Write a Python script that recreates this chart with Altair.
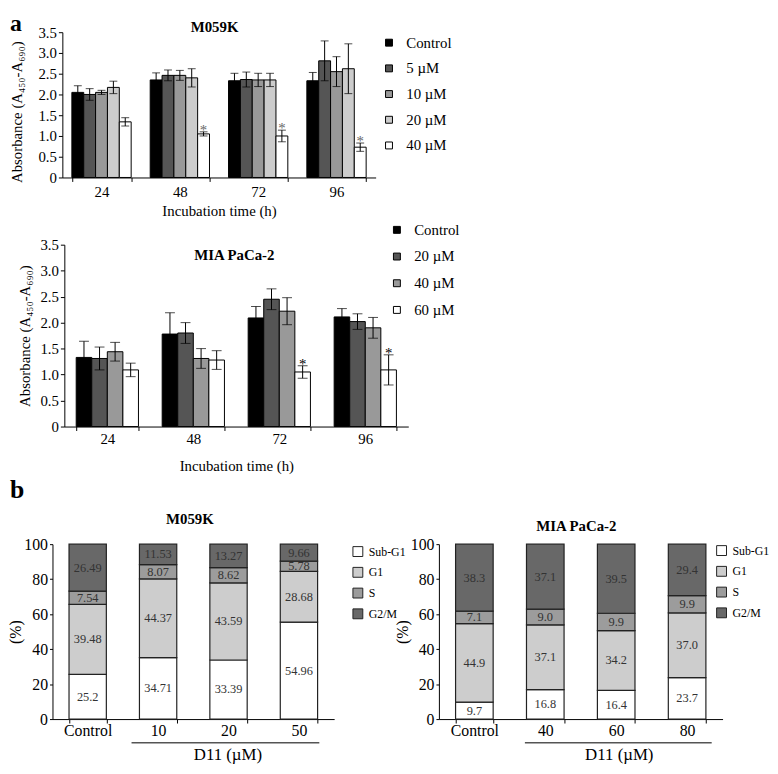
import altair as alt
import pandas as pd

FONT = "Liberation Serif"

# ---------------- panel a: M059K ----------------
times = ["24", "48", "72", "96"]

m_conc = ["Control", "5 µM", "10 µM", "20 µM", "40 µM"]
m_vals = [
    [2.05, 2.35, 2.33, 2.33],
    [2.00, 2.46, 2.36, 2.81],
    [2.05, 2.46, 2.35, 2.55],
    [2.17, 2.40, 2.35, 2.62],
    [1.34, 1.05, 1.00, 0.73],
]
m_errs = [
    [0.16, 0.17, 0.18, 0.20],
    [0.14, 0.13, 0.18, 0.48],
    [0.05, 0.12, 0.16, 0.36],
    [0.15, 0.22, 0.16, 0.60],
    [0.10, 0.05, 0.14, 0.10],
]
m_sig = [
    ["", "", "", ""],
    ["", "", "", ""],
    ["", "", "", ""],
    ["", "", "", ""],
    ["", "*", "*", "*"],
]
m_colors = ["#000000", "#555555", "#999999", "#cccccc", "#ffffff"]

# ---------------- panel a: MIA PaCa-2 ----------------
p_conc = ["Control", "20 µM", "40 µM", "60 µM"]
p_vals = [
    [1.33, 1.78, 2.09, 2.11],
    [1.31, 1.80, 2.45, 2.02],
    [1.44, 1.31, 2.22, 1.90],
    [1.09, 1.28, 1.05, 1.09],
]
p_errs = [
    [0.31, 0.41, 0.22, 0.16],
    [0.22, 0.20, 0.20, 0.15],
    [0.18, 0.19, 0.26, 0.20],
    [0.13, 0.18, 0.12, 0.29],
]
p_sig = [
    ["", "", "", ""],
    ["", "", "", ""],
    ["", "", "", ""],
    ["", "", "*", "*"],
]
p_colors = ["#000000", "#555555", "#999999", "#ffffff"]

# ---------------- panel b ----------------
phases = ["Sub-G1", "G1", "S", "G2/M"]
phase_colors = ["#ffffff", "#cdcdcd", "#9c9c9c", "#686868"]

bm_cond = ["Control", "10", "20", "50"]
bm_sub = [25.2, 34.71, 33.39, 54.96]
bm_g1 = [39.48, 44.37, 43.59, 28.68]
bm_s = [7.54, 8.07, 8.62, 5.78]
bm_g2 = [26.49, 11.53, 13.27, 9.66]

bp_cond = ["Control", "40", "60", "80"]
bp_sub = [9.7, 16.8, 16.4, 23.7]
bp_g1 = [44.9, 37.1, 34.2, 37.0]
bp_s = [7.1, 9.0, 9.9, 9.9]
bp_g2 = [38.3, 37.1, 39.5, 29.4]


def long_bars(conc, vals, errs, sig):
    rows = []
    for ci, c in enumerate(conc):
        for ti, t in enumerate(times):
            rows.append({"time": t, "conc": c, "v": vals[ci][ti],
                         "e": errs[ci][ti], "sig": sig[ci][ti]})
    return pd.DataFrame(rows)


def long_stack(cond, sub, g1, s, g2):
    rows = []
    for i, c in enumerate(cond):
        for k, (ph, arr) in enumerate(zip(phases, [sub, g1, s, g2])):
            rows.append({"cond": c, "phase": ph, "k": k, "v": arr[i], "lab": str(arr[i])})
    return pd.DataFrame(rows)


def text_layer(txt, x, y, size, weight="normal", align="center", baseline="middle"):
    return alt.Chart(pd.DataFrame({"t": [txt]})).mark_text(
        fontSize=size, fontWeight=weight, color="black", align=align,
        baseline=baseline).encode(x=alt.value(x), y=alt.value(y), text="t:N")


def bar_panel(df, conc, colors, w, h, x_start, pad, cap, title_text, tx, ty,
              letter, lx, ly, legend_x, legend_y, row_pad, ytitle_pad, ytitle_shift,
              sig_color, xlab_pad, xtitle_pad):
    X = alt.X("time:N", sort=times,
              scale=alt.Scale(paddingInner=pad, paddingOuter=pad / 2, range=[x_start, w]),
              axis=alt.Axis(title="Incubation time (h)", labelAngle=0, tickBand="extent",
                            labelFontSize=15, titleFontSize=15, labelPadding=xlab_pad,
                            titlePadding=xtitle_pad, tickSize=4,
                            titleX=(x_start + w) / 2))
    XO = alt.XOffset("conc:N", sort=conc, scale=alt.Scale(paddingInner=0, paddingOuter=0))
    yaxis = alt.Axis(title="Absorbance (A₄₅₀-A₆₉₀)", values=[0, 0.5, 1, 1.5, 2, 2.5, 3, 3.5],
                     labelExpr="datum.value == 0 ? '0' : format(datum.value, '.1f')",
                     labelFontSize=15, titleFontSize=15, tickSize=4, labelPadding=2,
                     titlePadding=ytitle_pad, offset=-x_start,
                     titleY=h / 2 + ytitle_shift)
    yscale = alt.Scale(domain=[0, 3.5], nice=False)

    base = alt.Chart(df).transform_calculate(lo="datum.v - datum.e", hi="datum.v + datum.e")

    bars = base.mark_bar(stroke="black", strokeWidth=1).encode(
        x=X, xOffset=XO,
        y=alt.Y("v:Q", scale=yscale, axis=yaxis),
        color=alt.Color("conc:N", sort=conc,
                        scale=alt.Scale(domain=conc, range=colors),
                        legend=alt.Legend(orient="none", legendX=legend_x, legendY=legend_y,
                                          title=None, symbolType="square", symbolSize=49,
                                          symbolStrokeColor="black", symbolStrokeWidth=1,
                                          labelFontSize=15, labelFont=FONT, labelColor="black",
                                          rowPadding=row_pad, labelOffset=10)),
    )
    rules = base.mark_rule(color="black", strokeWidth=1).encode(
        x=X, xOffset=XO,
        y=alt.Y("lo:Q", scale=yscale, axis=yaxis), y2="hi:Q")
    caps_hi = base.mark_tick(color="black", size=cap, thickness=1).encode(
        x=X, xOffset=XO, y=alt.Y("hi:Q", scale=yscale, axis=yaxis))
    caps_lo = base.mark_tick(color="black", size=cap, thickness=1).encode(
        x=X, xOffset=XO, y=alt.Y("lo:Q", scale=yscale, axis=yaxis))
    stars = base.mark_text(fontSize=15, color=sig_color, baseline="alphabetic", dy=3).encode(
        x=X, xOffset=XO, y=alt.Y("hi:Q", scale=yscale, axis=yaxis), text="sig:N")

    layers = [bars, rules, caps_hi, caps_lo, stars,
              text_layer(title_text, tx, ty, 15, "bold")]
    if letter:
        layers.append(text_layer(letter, lx, ly, 24, "bold", "left", "alphabetic"))
    return alt.layer(*layers).properties(width=w, height=h)


def stack_panel(df, cond, w, h, title_text, tx, ty, letter, lx, ly,
                legend_x, legend_y, d11_x, d11_y, line_x0, line_x1, line_y):
    X = alt.X("cond:N", sort=cond,
              scale=alt.Scale(paddingInner=0.47, paddingOuter=0.235),
              axis=alt.Axis(title="D11 (µM)", titleX=d11_x, titleY=d11_y, titleAlign="center",
                            titleBaseline="middle", labelAngle=0, tickBand="extent",
                            labelFontSize=16, titleFontSize=17, labelPadding=0, tickSize=4))
    yaxis = alt.Axis(title="(%)", values=[0, 20, 40, 60, 80, 100], labelFontSize=16,
                     titleFontSize=16, tickSize=3, labelPadding=2, titlePadding=0)
    yscale = alt.Scale(domain=[0, 100], nice=False)

    base = (alt.Chart(df)
            .transform_joinaggregate(total="sum(v)", groupby=["cond"])
            .transform_calculate(pct="datum.v / datum.total * 100")
            .transform_stack(stack="pct", groupby=["cond"], as_=["y0", "y1"],
                             sort=[alt.SortField("k", order="ascending")])
            .transform_calculate(mid="(datum.y0 + datum.y1) / 2"))

    bars = base.mark_bar(stroke="#222222", strokeWidth=1.2).encode(
        x=X,
        y=alt.Y("y0:Q", scale=yscale, axis=yaxis), y2="y1:Q",
        color=alt.Color("phase:N", sort=phases,
                        scale=alt.Scale(domain=phases, range=phase_colors),
                        legend=alt.Legend(orient="none", legendX=legend_x, legendY=legend_y,
                                          title=None, symbolType="square", symbolSize=100,
                                          symbolStrokeColor="#222222", symbolStrokeWidth=1,
                                          labelFontSize=12, labelFont=FONT, labelColor="black",
                                          rowPadding=7, labelOffset=5)),
    )
    labels = base.mark_text(fontSize=12.5, color="#333333", baseline="middle").encode(
        x=X, y=alt.Y("mid:Q", scale=yscale, axis=yaxis), text="lab:N")

    line = alt.Chart(pd.DataFrame({"t": ["D11"]})).mark_rule(color="#555555", strokeWidth=1.5).encode(
        x=alt.value(line_x0), x2=alt.value(line_x1), y=alt.value(line_y))
    layers = [bars, labels, line, text_layer(title_text, tx, ty, 15, "bold")]
    if letter:
        layers.append(text_layer(letter, lx, ly, 26, "bold", "left", "alphabetic"))
    return alt.layer(*layers).properties(width=w, height=h)


# common plot origin x0 = 53 px (page); top/middle panels shift their axes inward
top = bar_panel(long_bars(m_conc, m_vals, m_errs, m_sig), m_conc, m_colors,
                327, 147, 10, 0.243, 8, "M059K", 164, -5.5, "a", -43, -1,
                333, 3.1, 10, 13.5, 7, "#666666", 3.5, 4)
mid = bar_panel(long_bars(p_conc, p_vals, p_errs, p_sig), p_conc, p_colors,
                360, 184, 12, 0.276, 10, "MIA PaCa-2", 184, 10, None, 0, 0,
                341, -22.5, 11, 7.5, 0, "black", 1.5, 12)

bl = stack_panel(long_stack(bm_cond, bm_sub, bm_g1, bm_s, bm_g2), bm_cond,
                 285, 177, "M059K", 139, -25, "b", -43, -46.5,
                 303, 1.5, 177, 36, 80, 270, 201)
br = stack_panel(long_stack(bp_cond, bp_sub, bp_g1, bp_s, bp_g2), bp_cond,
                 287, 177, "MIA PaCa-2", 139, -18, None, 0, 0,
                 280, 0.5, 182, 36, 87, 276, 201)

bottom = alt.hconcat(bl, br, spacing=-12).resolve_scale(color="independent")
chart = (alt.vconcat(top, mid, bottom, spacing=3)
         .resolve_scale(color="independent", x="independent", y="independent",
                        xOffset="independent")
         .properties(padding=0)
         .configure(font=FONT)
         .configure_view(stroke=None)
         .configure_axis(grid=False, domainColor="black", tickColor="black",
                         labelColor="black", titleColor="black", labelFont=FONT,
                         titleFont=FONT, titleFontWeight="normal", domainWidth=1)
         .configure_legend(labelFont=FONT, padding=0)
         .configure_text(font=FONT))

chart.save("out.html", embed_options={"renderer": "svg", "actions": False})
